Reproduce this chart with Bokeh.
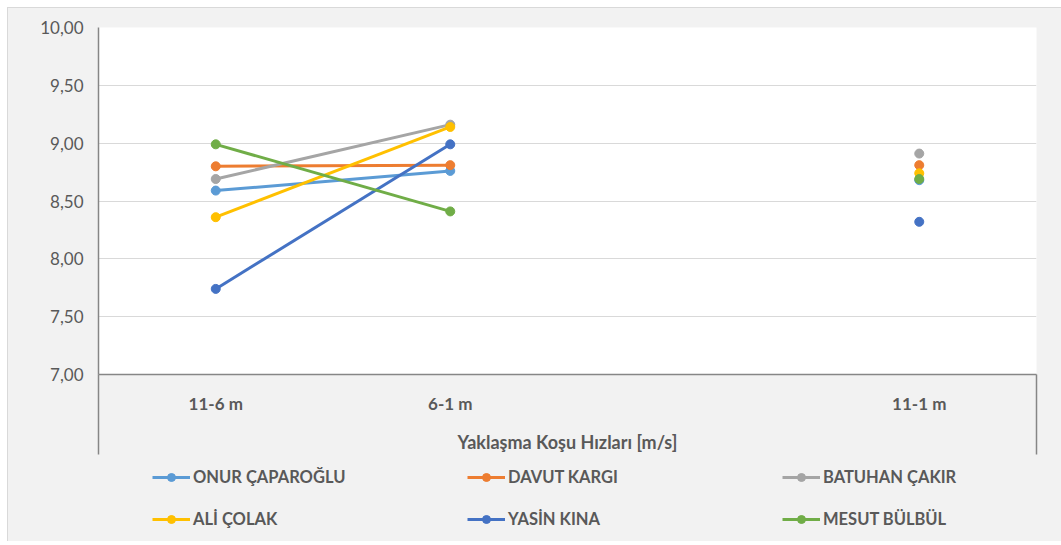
from bokeh.plotting import figure
from bokeh.layouts import column
from bokeh.models import Range1d, Legend, LegendItem, FixedTicker
from bokeh.embed import file_html
from bokeh.resources import INLINE

NaN = float("nan")

group_label = "Yaklaşma Koşu Hızları [m/s]"
categories = ["11-6 m", "6-1 m", "", "11-1 m"]
names = ["ONUR ÇAPAROĞLU", "DAVUT KARGI", "BATUHAN ÇAKIR", "ALİ ÇOLAK", "YASİN KINA", "MESUT BÜLBÜL"]
onur = [8.59, 8.76, NaN, 8.68]
davut = [8.80, 8.81, NaN, 8.81]
batuhan = [8.69, 9.16, NaN, 8.91]
ali = [8.36, 9.14, NaN, 8.74]
yasin = [7.74, 8.99, NaN, 8.32]
mesut = [8.99, 8.41, NaN, 8.69]
colors = ["#5B9BD5", "#ED7D31", "#A5A5A5", "#FFC000", "#4472C4", "#70AD47"]
y_ticks = [7.0, 7.5, 8.0, 8.5, 9.0, 9.5, 10.0]
y_tick_labels = ["7,00", "7,50", "8,00", "8,50", "9,00", "9,50", "10,00"]

series = [onur, davut, batuhan, ali, yasin, mesut]
n_cat = len(categories)
x_pos = [i + 0.5 for i in range(n_cat)]          # category centres
x_edges = [0, n_cat]                               # category axis boundaries

TEXT = "#595959"
AXIS = "#868686"
BG = "#f2f2f2"
FONT = "Lato"

p = figure(
    x_range=Range1d(0, n_cat), y_range=Range1d(7, 10),
    width=1053, height=447,
    output_backend="svg", toolbar_location=None,
    min_border_left=90, min_border_top=19, min_border_right=25, min_border_bottom=80,
    background_fill_color="white", border_fill_color=BG,
    outline_line_color=None,
)

for vals, col in zip(series, colors):
    p.line(x_pos, vals, line_color=col, line_width=3)
    p.scatter(x_pos, vals, size=9, fill_color=col, line_color=col, line_width=1)

p.xgrid.grid_line_color = None
p.ygrid.grid_line_color = "#d9d9d9"
p.ygrid.grid_line_width = 1

p.yaxis.ticker = FixedTicker(ticks=y_ticks)
p.yaxis.major_label_overrides = {t: l for t, l in zip(y_ticks, y_tick_labels)}
p.yaxis.axis_line_color = AXIS
p.yaxis.axis_line_width = 1.5
p.yaxis.major_tick_line_color = None
p.yaxis.minor_tick_line_color = None
p.yaxis.major_label_text_font = FONT
p.yaxis.major_label_text_font_size = "17px"
p.yaxis.major_label_text_color = TEXT
p.yaxis.major_label_standoff = 9

labelled = [x for x, c in zip(x_pos, categories) if c]
p.xaxis.ticker = FixedTicker(ticks=labelled, minor_ticks=x_edges)
p.xaxis.major_label_overrides = {x: c for x, c in zip(x_pos, categories) if c}
p.xaxis.axis_line_color = AXIS
p.xaxis.axis_line_width = 1.5
p.xaxis.major_tick_line_color = None
p.xaxis.major_tick_out = 0
p.xaxis.major_tick_in = 0
p.xaxis.minor_tick_line_color = AXIS
p.xaxis.minor_tick_line_width = 1.5
p.xaxis.minor_tick_in = 0
p.xaxis.minor_tick_out = 80
p.xaxis.major_label_text_font = FONT
p.xaxis.major_label_text_font_size = "17px"
p.xaxis.major_label_text_font_style = "bold"
p.xaxis.major_label_text_color = TEXT
p.xaxis.major_label_standoff = -62
p.xaxis.axis_label = group_label
p.xaxis.axis_label_text_font = FONT
p.xaxis.axis_label_text_font_size = "18px"
p.xaxis.axis_label_text_font_style = "bold"
p.xaxis.axis_label_text_color = TEXT
p.xaxis.axis_label_standoff = 14

# legend strip below the chart (series drawn again, outside its visible range)
p2 = figure(
    x_range=Range1d(0, n_cat), y_range=Range1d(0, 1),
    width=1053, height=86,
    output_backend="svg", toolbar_location=None,
    min_border_left=90, min_border_top=0, min_border_right=25, min_border_bottom=0,
    background_fill_color=BG, border_fill_color=BG, outline_line_color=None,
)
p2.axis.visible = False
p2.grid.visible = False
items = []
for name, vals, col in zip(names, series, colors):
    lr = p2.line(x_pos, vals, line_color=col, line_width=3)
    sr = p2.scatter(x_pos, vals, size=9, fill_color=col, line_color=col, line_width=1)
    items.append(LegendItem(label=name, renderers=[lr, sr]))

legend = Legend(
    items=items, orientation="horizontal", ncols=3,
    location=(54, 12),
    glyph_width=38, glyph_height=20, label_standoff=3, label_width=252, label_height=20,
    spacing=22, padding=0, margin=0,
    label_text_font=FONT, label_text_font_size="16.5px", label_text_font_style="bold",
    label_text_color=TEXT,
    background_fill_alpha=0, border_line_color=None,
)
p2.add_layout(legend)

layout = column(p, p2, spacing=0, styles={
    "margin-left": "7px", "margin-top": "7px",
    "border-left": "1px solid #d9d9d9", "border-top": "1px solid #d9d9d9",
    "background-color": BG,
})

open("out.html", "w").write(file_html(layout, INLINE))
